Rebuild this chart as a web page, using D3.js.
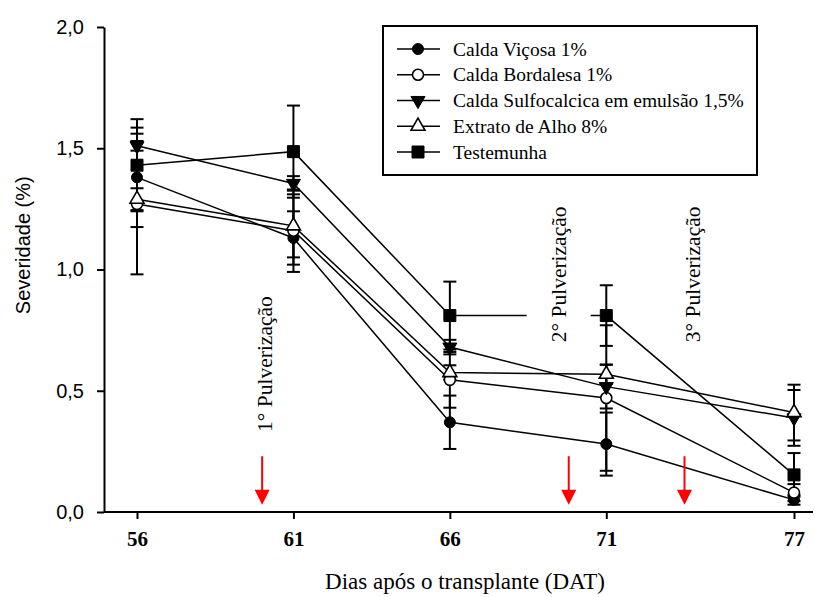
<!DOCTYPE html>
<html>
<head>
<meta charset="utf-8">
<title>Severidade</title>
<script src="https://cdn.jsdelivr.net/npm/d3@7"></script>
<style>
  body { margin: 0; background: #ffffff; }
</style>
</head>
<body>
<script>
// Days after transplant (x axis) and y ticks
var days = [56, 61, 66, 71, 77];
var yTicks = [0, 0.5, 1.0, 1.5, 2.0];

// Series names and symbols, same order as the legend
var seriesNames = ["Calda Viçosa 1%", "Calda Bordalesa 1%", "Calda Sulfocalcica em emulsão 1,5%", "Extrato de Alho 8%", "Testemunha"];
var seriesSymbols = ["circle", "circleOpen", "triangleDown", "triangleOpen", "square"];

// Severity values
var vicosa = [1.38, 1.13, 0.37, 0.28, 0.05];
var bordalesa = [1.27, 1.16, 0.545, 0.47, 0.08];
var sulfocalcica = [1.51, 1.355, 0.68, 0.517, 0.388];
var alho = [1.29, 1.18, 0.575, 0.568, 0.41];
var testemunha = [1.43, 1.486, 0.81, 0.81, 0.153];

// Error bars (half length)
var vicosaErr = [0.205, 0.11, 0.11, 0.13, 0.02];
var bordalesaErr = [0.29, 0.17, 0.115, 0.30, 0.035];
var sulfocalcicaErr = [0.02, 0.03, 0.03, 0.09, 0.115];
var alhoErr = [0.045, 0.13, 0.03, 0.04, 0.115];
var testemunhaErr = [0.19, 0.19, 0.14, 0.125, 0.09];

// Spraying dates (red arrows) and their labels
var sprayDays = [60, 69.8, 73.5];
var sprayLabels = ["1° Pulverização", "2° Pulverização", "3° Pulverização"];
var labelDays = [60.3, 69.7, 74.0];
var labelLevels = [0.33, 0.70, 0.70];

window.onload = function() {
  var w = 815;
  var h = 597;

  var svg = d3.select("body").append("svg").attr("width", w).attr("height", h)
    .style("font-family", "'Liberation Serif', 'Times New Roman', serif");

  var xScale = d3.scaleLinear().domain([56, 77]).range([137, 794]);
  var yScale = d3.scaleLinear().domain([0, 2]).range([512, 27]);

  var allValues = [vicosa, bordalesa, sulfocalcica, alho, testemunha];
  var allErrors = [vicosaErr, bordalesaErr, sulfocalcicaErr, alhoErr, testemunhaErr];

  var series = seriesNames.map(function(name, i) {
    return {
      name: name,
      symbol: seriesSymbols[i],
      points: days.map(function(d, j) {
        return {day: d, value: allValues[i][j], err: allErrors[i][j]};
      })
    };
  });

  drawAxes(svg, xScale, yScale, w);
  drawLines(svg, series, xScale, yScale);
  drawSprays(svg, xScale, yScale);
  drawErrorBars(svg, series, xScale, yScale);
  drawMarkers(svg, series, xScale, yScale);
  drawLegend(svg, series);
};

// Builds the path of a marker
function markerPath(symbol) {
  if (symbol == "circle" || symbol == "circleOpen") {
    return d3.symbol().type(d3.symbolCircle).size(95)();
  }
  if (symbol == "square") {
    return d3.symbol().type(d3.symbolSquare).size(144)();
  }
  return d3.symbol().type(d3.symbolTriangle).size(85)();
}

// Appends one marker at position x, y
function addMarker(g, symbol, x, y) {
  var open = symbol == "circleOpen" || symbol == "triangleOpen";
  var rot = symbol == "triangleDown" ? " rotate(180)" : "";
  g.append("path")
    .attr("d", markerPath(symbol))
    .attr("transform", "translate(" + x + "," + y + ")" + rot)
    .attr("fill", open ? "#ffffff" : "#000000")
    .attr("stroke", "#000000")
    .attr("stroke-width", open ? 1.6 : 1);
}

function drawAxes(svg, xScale, yScale, w) {
  var x0 = 104;

  // x axis
  var xAxis = d3.axisBottom(xScale).tickValues(days).tickFormat(d3.format("d"))
    .tickSize(7).tickSizeOuter(0).tickPadding(12);
  var gx = svg.append("g").attr("transform", "translate(0," + yScale(0) + ")").call(xAxis);
  gx.select(".domain").remove();
  gx.append("line").attr("x1", x0).attr("x2", w - 2).attr("y1", 0).attr("y2", 0)
    .attr("stroke", "#000").attr("stroke-width", 2);
  gx.selectAll(".tick line").attr("stroke-width", 2);
  gx.selectAll(".tick text")
    .attr("font-family", "'Liberation Serif', 'Times New Roman', serif")
    .attr("font-size", 21).attr("font-weight", "bold").attr("fill", "#000");

  // y axis
  var yAxis = d3.axisLeft(yScale).tickValues(yTicks)
    .tickFormat(function(d) { return d3.format(".1f")(d).replace(".", ","); })
    .tickSize(7).tickSizeOuter(0).tickPadding(13);
  var gy = svg.append("g").attr("transform", "translate(" + x0 + ",0)").call(yAxis);
  gy.select(".domain").attr("stroke-width", 2);
  gy.selectAll(".tick line").attr("stroke-width", 2);
  gy.selectAll(".tick text")
    .attr("font-family", "'Liberation Sans', Arial, sans-serif")
    .attr("font-size", 20).attr("fill", "#000");

  // Axis titles
  svg.append("text").attr("x", 465).attr("y", 589)
    .attr("text-anchor", "middle").attr("font-size", 23)
    .text("Dias após o transplante (DAT)");
  svg.append("text").attr("transform", "translate(30," + yScale(1.1) + ") rotate(-90)")
    .attr("text-anchor", "middle").attr("font-size", 20)
    .style("font-family", "'Liberation Sans', Arial, sans-serif")
    .text("Severidade (%)");
}

function drawLines(svg, series, xScale, yScale) {
  var line = d3.line()
    .x(function(d) { return xScale(d.day); })
    .y(function(d) { return yScale(d.value); });

  svg.append("g").selectAll("path").data(series).enter().append("path")
    .attr("d", function(s) { return line(s.points); })
    .attr("fill", "none").attr("stroke", "#000").attr("stroke-width", 1.5);
}

function drawSprays(svg, xScale, yScale) {
  var g = svg.append("g");

  // Labels, the second one has a white box behind it
  sprayLabels.forEach(function(label, i) {
    var x = xScale(labelDays[i]);
    var y = yScale(labelLevels[i]);
    var t = g.append("text")
      .attr("transform", "translate(" + x + "," + y + ") rotate(-90)")
      .attr("font-size", 21.5).attr("fill", "#000").text(label);
    if (i == 1) {
      var b = t.node().getBBox();
      g.insert("rect", "text")
        .attr("transform", "translate(" + x + "," + y + ") rotate(-90)")
        .attr("x", b.x - 3).attr("y", b.y - 20)
        .attr("width", b.width + 6).attr("height", b.height + 40)
        .attr("fill", "#ffffff");
    }
  });

  // Red arrows
  sprayDays.forEach(function(d) {
    var x = xScale(d);
    var top = yScale(0.23);
    var tip = yScale(0.03);
    g.append("line").attr("x1", x).attr("x2", x).attr("y1", top).attr("y2", tip - 12)
      .attr("stroke", "#ff0000").attr("stroke-width", 2);
    g.append("path")
      .attr("d", "M" + (x - 7.5) + "," + (tip - 15) + "L" + (x + 7.5) + "," + (tip - 15) + "L" + x + "," + tip + "Z")
      .attr("fill", "#ff0000");
  });
}

function drawErrorBars(svg, series, xScale, yScale) {
  var g = svg.append("g").attr("stroke", "#000").attr("stroke-width", 2);
  var cap = 6.5;

  series.forEach(function(s) {
    s.points.forEach(function(p) {
      var x = xScale(p.day);
      var lo = yScale(p.value - p.err);
      var hi = yScale(p.value + p.err);
      g.append("line").attr("x1", x).attr("x2", x).attr("y1", lo).attr("y2", hi);
      g.append("line").attr("x1", x - cap).attr("x2", x + cap).attr("y1", lo).attr("y2", lo);
      g.append("line").attr("x1", x - cap).attr("x2", x + cap).attr("y1", hi).attr("y2", hi);
    });
  });
}

function drawMarkers(svg, series, xScale, yScale) {
  var g = svg.append("g");
  series.forEach(function(s) {
    s.points.forEach(function(p) {
      addMarker(g, s.symbol, xScale(p.day), yScale(p.value));
    });
  });
}

function drawLegend(svg, series) {
  var g = svg.append("g");

  // Legend frame
  g.append("rect").attr("x", 383).attr("y", 26).attr("width", 374).attr("height", 149)
    .attr("fill", "#ffffff").attr("stroke", "#000").attr("stroke-width", 2);

  var rowY = d3.scalePoint().domain(d3.range(series.length)).range([49, 152]);

  series.forEach(function(s, i) {
    var y = rowY(i);
    g.append("line").attr("x1", 397).attr("x2", 440).attr("y1", y).attr("y2", y)
      .attr("stroke", "#000").attr("stroke-width", 1.5);
    addMarker(g, s.symbol, 418, y);
    g.append("text").attr("x", 453).attr("y", y + 6.5)
      .attr("font-size", 19.5).attr("fill", "#000").text(s.name);
  });
}
</script>
</body>
</html>
